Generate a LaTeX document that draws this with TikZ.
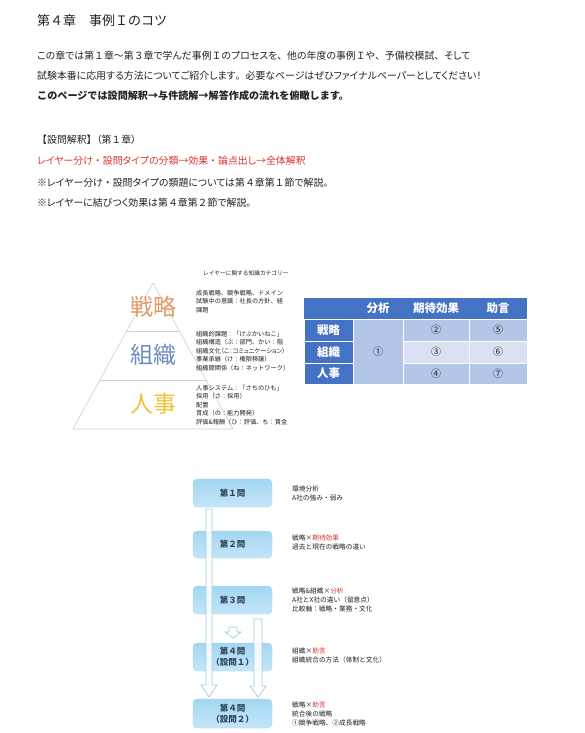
\documentclass[tikz,border=0pt]{standalone}
\usepackage{fontspec}
\setmainfont{Noto Sans CJK JP}[RawFeature=+palt]
\newfontfamily\fw{Noto Sans CJK JP}
\usetikzlibrary{calc}
\definecolor{redc}{HTML}{D93332}
\definecolor{txtc}{HTML}{222222}
\definecolor{orgc}{HTML}{E39A66}
\definecolor{bluec}{HTML}{6E8CC2}
\definecolor{yelc}{HTML}{F0C437}
\definecolor{pyrc}{HTML}{C9D0DA}
\definecolor{hdrc}{HTML}{4472C4}
\definecolor{midc}{HTML}{B4C6E7}
\definecolor{litc}{HTML}{D9E1F2}
\definecolor{qtop}{HTML}{A3D6F2}
\definecolor{qbot}{HTML}{C4E6F8}
\definecolor{qedge}{HTML}{A9D6EE}
\definecolor{arrc}{HTML}{9CCDE6}
\definecolor{qtxt}{HTML}{33475A}
\newcommand\fsz[2]{\fontsize{#1}{#2}\selectfont}
\newcommand\F[1]{{\fw #1}}
\newcommand\myblockarrow[5]{%
  \draw[blockarrow] let \p1=(#1), \p2=(#2) in
    (\x1-#3,\y1) -- (\x1+#3,\y1) -- (\x1+#3,\y2+#5) -- (\x1+#4,\y2+#5) --
    (\x1,\y2) -- (\x1-#4,\y2+#5) -- (\x1-#3,\y2+#5) -- cycle;}
\tikzset{
  bodytxt/.style={anchor=west, inner sep=0pt, text=txtc, font=\fsz{9.9}{12}},
  pyrline/.style={draw=pyrc, line width=0.6pt},
  pyrlabel/.style={inner sep=0pt, font=\fw\fsz{23}{23}},
  smalltxt/.style={anchor=north west, inner sep=0pt, align=left, text=txtc, font=\fw\fsz{6.2}{8.5}},
  flowtxt/.style={anchor=north west, inner sep=0pt, align=left, text=txtc, font=\fw\fsz{6.7}{9}},
  cell/.style={draw=white, line width=0.9pt, inner sep=0pt, font=\fw\fsz{10}{10}, text=txtc},
  hcell/.style={cell, fill=hdrc, text=white, font=\fw\bfseries\fsz{11.5}{11.5}},
  hdrtxt/.style={inner sep=0pt, text=white, font=\fw\bfseries\fsz{11.5}{11.5}},
  qbox/.style={rounded corners=4pt, top color=qtop, bottom color=qbot, draw=qedge,
    line width=0.3pt, minimum width=79pt, inner sep=0pt, align=center,
    text=qtxt, font=\fw\bfseries\fsz{8.5}{11}},
  blockarrow/.style={draw=arrc, fill=white, fill opacity=0.85, line width=0.7pt}
}
\begin{document}
\begin{tikzpicture}[x=1pt,y=-1pt]
\useasboundingbox (0,0) rectangle (584,733);
\fill[white] (0,0) rectangle (584,733);

% ---- heading and body text ----
\node[bodytxt, font=\fw\fsz{13}{14}] (title) at (37,21) {第４章　事例Ｉのコツ};
\node[bodytxt] (l1) at (37,56) {この章では第\F{１}章\F{～}第\F{３}章で学んだ事例\F{Ｉ}のプロセスを\F{、}他の年度の事例\F{Ｉ}や\F{、}予備校模試\F{、}そして};
\node[bodytxt] (l2) at (37,76) {試験本番に応用する方法についてご紹介します\F{。}必要なページはぜひファイナルペーパーとしてください！};
\node[bodytxt, font=\fw\bfseries\fsz{10.1}{12}] (l3) at (37,96) {このページでは設問解釈→与件読解→解答作成の流れを俯瞰します。};
\node[bodytxt] (l4) at (37,140) {\F{【}設問解釈\F{】}（第\F{１}章）};
\node[bodytxt, text=redc] (l5) at (37,161) {レイヤー分け\F{・}設問タイプの分類→効果\F{・}論点出し→全体解釈};
\node[bodytxt] (l6) at (37,183) {※レイヤー分け\F{・}設問タイプの類題については第\F{４}章第\F{１}節で解説\F{。}};
\node[bodytxt] (l7) at (37,203) {※レイヤーに結びつく効果は第\F{４}章第\F{２}節で解説\F{。}};

% ---- pyramid ----
\coordinate (apex) at (153,283);
\coordinate (bl) at (73,429);
\coordinate (br) at (233,429);
\draw[pyrline] (apex) -- (bl) -- (br) -- cycle;
\draw[pyrline] ($(apex)!0.3288!(bl)$) -- ($(apex)!0.3288!(br)$);
\draw[pyrline] ($(apex)!0.6644!(bl)$) -- ($(apex)!0.6644!(br)$);
\node[pyrlabel, text=orgc] (senryaku) at (153.5,307) {戦略};
\node[pyrlabel, text=bluec] (soshiki) at (153.5,355) {組織};
\node[pyrlabel, text=yelc] (jinji) at (153.5,404) {人事};

\begin{scope}
\clip (190,262) rectangle (291,432);
\node[anchor=west, inner sep=0pt, text=txtc, font=\fw\fsz{5.7}{6}] (cat) at (203,273) {レイヤーに関する知識カテゴリー};
\node[smalltxt] (g1) at (196,289.9) {成長戦略、競争戦略、ドメイン\\試験中の意識：社長の方針、経\\課題};
\node[smalltxt] (g2) at (196,330.9) {組織的課題：「けぶかいねこ」\\組織構造（ぶ：部門、かい：階\\{\rmfamily 組織文化（こ：コミュニケーション）}\\事業承継（け：権限移譲）\\組織間関係（ね：ネットワーク）};
\node[smalltxt] (g3) at (196,384.9) {人事システム：「さちのひも」\\採用（さ：採用）\\配置\\育成（の：能力開発）\\評価\&報酬（ひ：評価、ち：賃金};
\end{scope}

% ---- table ----
\fill[hdrc] (304,298) rectangle (527,319);
\node[hdrtxt] (h2) at (378,308.5) {分析};
\node[hdrtxt] (h3) at (436,308.5) {期待効果};
\node[hdrtxt] (h4) at (498,308.5) {助言};
\node[hcell, minimum width=49pt, minimum height=22pt] (r1) at (328.5,330) {戦略};
\node[hcell, minimum width=49pt, minimum height=22pt] (r2) at (328.5,352) {組織};
\node[hcell, minimum width=49pt, minimum height=21pt] (r3) at (328.5,373.5) {人事};
\node[cell, fill=midc, minimum width=50pt, minimum height=65pt] (c1) at (378,351.5) {①};
\node[cell, fill=midc, minimum width=66pt, minimum height=22pt] (c2) at (436,330) {②};
\node[cell, fill=litc, minimum width=66pt, minimum height=22pt] (c3) at (436,352) {③};
\node[cell, fill=midc, minimum width=66pt, minimum height=21pt] (c4) at (436,373.5) {④};
\node[cell, fill=midc, minimum width=58pt, minimum height=22pt] (c5) at (498,330) {⑤};
\node[cell, fill=litc, minimum width=58pt, minimum height=22pt] (c6) at (498,352) {⑥};
\node[cell, fill=midc, minimum width=58pt, minimum height=21pt] (c7) at (498,373.5) {⑦};

% ---- flow chart ----
\node[qbox, minimum height=28pt] (q1) at (232.5,493) {第１問};
\node[qbox, minimum height=27pt] (q2) at (232.5,544.5) {第２問};
\node[qbox, minimum height=28pt] (q3) at (232.5,600) {第３問};
\node[qbox, minimum height=28pt] (q41) at (232.5,657) {第４問\\（設問１）};
\node[qbox, minimum height=29pt] (q42) at (232.5,713.5) {第４問\\（設問２）};

\coordinate (a1s) at (209,509);
\coordinate (a1e) at (209,697);
\coordinate (a2s) at (258,619);
\coordinate (a2e) at (258,697);
\coordinate (a3s) at (233,627);
\coordinate (a3e) at (233,638);
\myblockarrow{a1s}{a1e}{3pt}{8pt}{12pt}
\myblockarrow{a2s}{a2e}{4pt}{8pt}{11pt}
\myblockarrow{a3s}{a3e}{4pt}{8pt}{6pt}

\node[flowtxt] (t1) at (292,485.6) {環境分析\\A社の強み・弱み};
\node[flowtxt] (t2) at (292,534.6) {戦略×\textcolor{redc}{期待効果}\\過去と現在の戦略の違い};
\node[flowtxt] (t3) at (292,587.6) {戦略\&組織×\textcolor{redc}{分析}\\A社とX社の違い（留意点）\\比較軸：戦略・業務・文化};
\node[flowtxt] (t4) at (292,647.6) {組織×\textcolor{redc}{助言}\\組織統合の方法（体制と文化）};
\node[flowtxt] (t5) at (292,701.6) {戦略×\textcolor{redc}{助言}\\統合後の戦略\\①競争戦略、②成長戦略};
\end{tikzpicture}
\end{document}
